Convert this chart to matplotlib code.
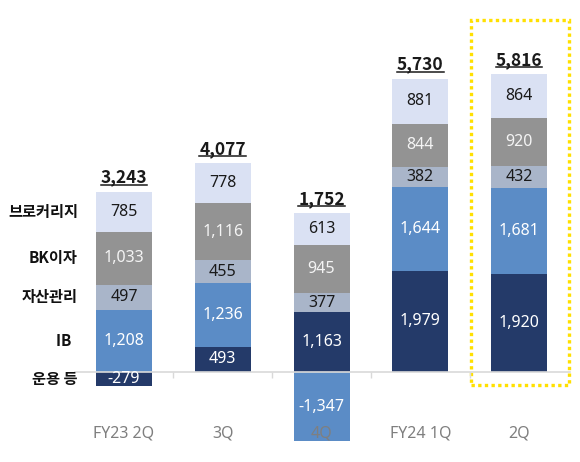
import matplotlib
matplotlib.use("Agg")
import numpy as np
import matplotlib.pyplot as plt
from matplotlib.patches import Rectangle
from matplotlib.lines import Line2D
from matplotlib.transforms import blended_transform_factory, IdentityTransform

plt.rcParams['font.family'] = ['Noto Sans', 'Noto Sans CJK KR', 'DejaVu Sans']
KR = ['Noto Sans CJK KR', 'DejaVu Sans']

# data
quarters = ["FY23 2Q", "3Q", "4Q", "FY24 1Q", "2Q"]
series_names = ["운용 등", "IB", "자산관리", "BK이자", "브로커리지"]
ops = [-279, 493, 1163, 1979, 1920]          # 운용 등
ib = [1208, 1236, -1347, 1644, 1681]         # IB
wm = [497, 455, 377, 382, 432]               # 자산관리
bk = [1033, 1116, 945, 844, 920]             # BK이자
brokerage = [785, 778, 613, 881, 864]        # 브로커리지
totals = ["3,243", "4,077", "1,752", "5,730", "5,816"]

series = [ops, ib, wm, bk, brokerage]
colors = ["#243A69", "#5B8CC6", "#A9B5C9", "#939393", "#DAE1F3"]
text_colors = ["white", "white", "#1a1a1a", "#f4f4f4", "#1a1a1a"]

fig = plt.figure(figsize=(5.8, 4.62), dpi=100)
W, H = 580, 462
ax = fig.add_axes([75 / W, 1 - 450 / H, 495 / W, 430 / H])

x = np.arange(len(quarters))
pos_base = np.zeros(len(quarters))
neg_base = np.zeros(len(quarters))
bar_w = 0.567

for vals, c, tc in zip(series, colors, text_colors):
    vals = np.array(vals, dtype=float)
    bottoms = np.where(vals >= 0, pos_base, neg_base)
    ax.bar(x, vals, bar_w, bottom=bottoms, color=c, linewidth=0)
    for xi, b, v in zip(x, bottoms, vals):
        ax.text(xi, b + v / 2, f"{int(v):,}", ha="center", va="center",
                color=tc, fontsize=11.5)
    pos_base = np.where(vals >= 0, pos_base + vals, pos_base)
    neg_base = np.where(vals < 0, neg_base + vals, neg_base)

ax.set_xlim(-0.496, 4.516)
ax.set_ylim(-1523, 6875)

# zero axis
for s in ["top", "right", "left"]:
    ax.spines[s].set_visible(False)
ax.spines["bottom"].set_position(("data", 0))
ax.spines["bottom"].set_color("#D9D9D9")
ax.spines["bottom"].set_linewidth(1.2)
ax.set_xticks(x[:-1] + 0.5)
ax.set_xticklabels([])
ax.tick_params(axis="x", direction="out", length=4, color="#D9D9D9", width=1)
ax.set_yticks([])

# category labels
trans = blended_transform_factory(ax.transData, fig.transFigure)
for xi, q in zip(x, quarters):
    ax.text(xi, 1 - 433 / H, q, transform=trans, ha="center", va="center",
            color="#7F7F7F", fontsize=11.5)

# series labels on the left, aligned to first bar segments
first_pos = 0.0
first_neg = 0.0
trans_l = blended_transform_factory(fig.transFigure, ax.transData)
for name, vals in zip(series_names, series):
    v = vals[0]
    if v >= 0:
        yc = first_pos + v / 2
        first_pos += v
    else:
        yc = first_neg + v / 2
        first_neg += v
    label = name + "  " if name == "IB" else name
    ax.text(78 / W, yc, label, transform=trans_l, ha="right", va="center",
            fontsize=11, fontweight="bold", color="#111111", family=KR)

# totals, underlined
total_texts = []
for xi, top, t in zip(x, pos_base, totals):
    tt = ax.annotate(t, (xi, top), xytext=(0, 6.5), textcoords="offset points",
                     ha="center", va="baseline", fontsize=12.5,
                     fontweight="bold", color="#1a1a1a", family=KR)
    total_texts.append((tt, xi, top))

# highlight box around latest quarter
rect = Rectangle((3.514, -254), 4.506 - 3.514, 6875 + 254, fill=False,
                 edgecolor="#FFE000", linewidth=2.4, linestyle=(0, (1, 1)),
                 clip_on=False)
ax.add_patch(rect)

fig.canvas.draw()
for tt, xi, top in total_texts:
    bb = tt.get_window_extent()
    base_y = ax.transData.transform((xi, top))[1] + 6.5 * fig.dpi / 72
    ly = base_y - 2
    fig.lines.append(Line2D([bb.x0, bb.x1], [ly, ly], transform=IdentityTransform(),
                            color="#1a1a1a", linewidth=1.1))

fig.savefig("out.png", dpi=100)
